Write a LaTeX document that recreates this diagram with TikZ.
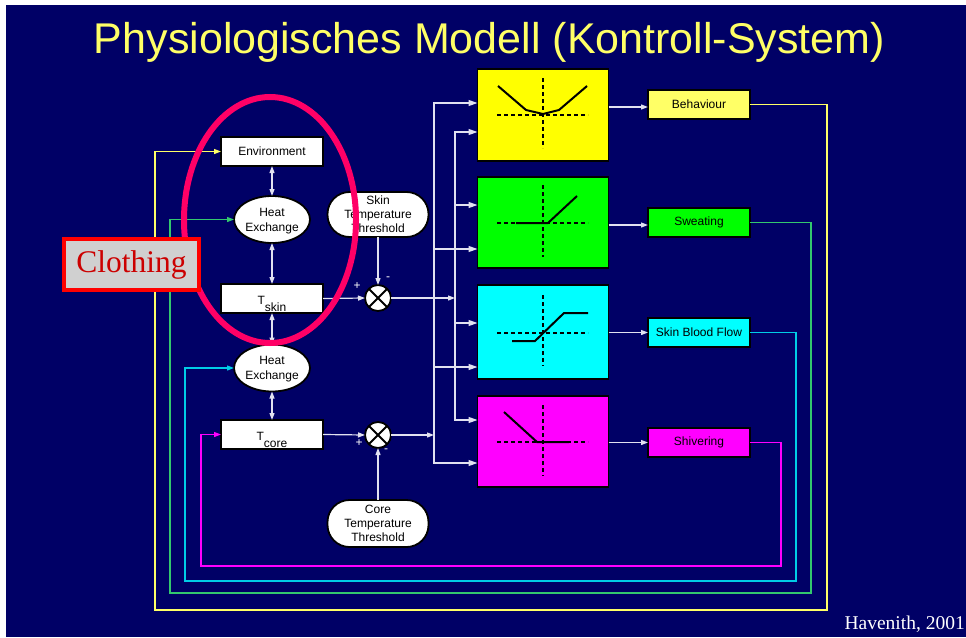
\documentclass[tikz,border=0pt]{standalone}
\usepackage{fontspec}
\setmainfont{Liberation Sans}
\newfontfamily\timesf{Liberation Serif}
\usetikzlibrary{arrows.meta,shapes.geometric}
\definecolor{navy}{RGB}{0,0,102}
\definecolor{titley}{RGB}{255,255,102}
\definecolor{sigc}{RGB}{225,225,240}
\definecolor{fbyel}{RGB}{255,255,102}
\definecolor{fbgrn}{RGB}{51,200,110}
\definecolor{fbcyan}{RGB}{0,204,230}
\definecolor{fbmag}{RGB}{255,0,255}
\definecolor{pinkc}{RGB}{255,0,102}
\definecolor{behy}{RGB}{255,255,102}
\definecolor{yelc}{RGB}{255,255,0}
\definecolor{grnc}{RGB}{0,255,0}
\definecolor{cync}{RGB}{0,255,255}
\definecolor{magc}{RGB}{255,0,255}
\definecolor{clothgray}{RGB}{208,208,208}
\definecolor{clothred}{RGB}{204,0,0}
\definecolor{redc}{RGB}{255,0,0}
\begin{document}
\begin{tikzpicture}[x=1pt,y=-1pt,
  smallfont/.style={font=\fontsize{12}{14}\selectfont},
  sigline/.style={draw=sigc,line width=1.2pt},
  arr/.style={-{Triangle[length=7pt,width=5pt]}},
  barr/.style={{Triangle[length=7pt,width=5pt]}-{Triangle[length=7pt,width=5pt]}},
  carr/.style={-{Triangle[length=9pt,width=6pt]}},
  fbline/.style={line width=1.2pt,-{Triangle[length=7pt,width=5pt]}},
  whitebox/.style={draw=black,line width=1.8pt,fill=white,minimum width=102pt,minimum height=29pt,inner sep=0pt,outer sep=0pt,smallfont},
  hxell/.style={ellipse,draw=black,line width=1.8pt,fill=white,minimum width=76pt,minimum height=47pt,inner sep=0pt,outer sep=0pt,align=center,font=\fontsize{12}{15}\selectfont,text depth=0pt},
  thr/.style={rectangle,rounded corners=22pt,draw=black,line width=1.8pt,fill=white,minimum width=101pt,minimum height=45pt,inner sep=0pt,outer sep=0pt,align=center,font=\fontsize{12}{14}\selectfont,text depth=0pt},
  junc/.style={circle,draw=black,line width=1.8pt,fill=white,minimum size=26pt,inner sep=0pt,outer sep=0pt},
  ctlbox/.style={draw=black,line width=1.8pt,minimum width=131pt,inner sep=0pt,outer sep=0pt},
  outbox/.style={draw=black,line width=1.8pt,minimum width=102pt,minimum height=29pt,inner sep=0pt,outer sep=0pt,smallfont},
  pm/.style={text=white,font=\fontsize{12}{12}\selectfont,inner sep=0pt},
  dsh/.style={draw=black,line width=1.1pt,dash pattern=on 4pt off 3pt},
  crv/.style={draw=black,line width=2pt}
]
\useasboundingbox (0,0) rectangle (966,637);
\fill[white] (0,0) rectangle (966,637);
\fill[navy] (6,5) rectangle (966,637);

% title and credit
\node[anchor=base,inner sep=0pt,text=titley,font=\fontsize{43}{50}\selectfont] (title) at (489.5,53) {Physiologisches Modell (Kontroll-System)};
\node[anchor=base east,inner sep=0pt,text=white,font=\timesf\fontsize{19.5}{22}\selectfont] (cred) at (965,629) {Havenith, 2001};

% left column
\node[whitebox] (env) at (272,151.5) {Environment};
\node[hxell] (hx1) at (272,219.5) {Heat\\Exchange};
\node[whitebox,text height=11pt,text depth=0pt] (tskin) at (272,298.5) {\smash{T\raisebox{-7pt}{skin}}};
\node[hxell] (hx2) at (272,368) {Heat\\Exchange};
\node[whitebox,text height=11pt,text depth=0pt] (tcore) at (272,434.5) {\smash{T\raisebox{-7pt}{core}}};

% thresholds and junctions
\node[thr] (sth) at (378,214.5) {Skin\\Temperature\\Threshold};
\node[junc] (sj) at (378,298) {};
\node[thr,minimum height=47pt] (cth) at (378,523.5) {Core\\Temperature\\Threshold};
\node[junc] (cj) at (378,435) {};
\draw[line width=1.8pt] (sj.north west) -- (sj.south east) (sj.north east) -- (sj.south west);
\draw[line width=1.8pt] (cj.north west) -- (cj.south east) (cj.north east) -- (cj.south west);
\node[pm] (sjp) at (357,286) {+};
\node[pm] (sjm) at (388,279) {-};
\node[pm] (cjp) at (359,443) {+};
\node[pm] (cjm) at (386,451) {-};

% control boxes
\node[ctlbox,fill=yelc,minimum height=92pt] (ctl1) at (543,115) {};
\node[ctlbox,fill=grnc,minimum height=91pt] (ctl2) at (543,222.5) {};
\node[ctlbox,fill=cync,minimum height=94pt] (ctl3) at (543,332) {};
\node[ctlbox,fill=magc,minimum height=91pt] (ctl4) at (543,441.5) {};

% graphs inside control boxes
\draw[dsh] (497,115) -- (588,115);
\draw[dsh] (543,78) -- (543,148);
\draw[crv] (498,86) -- (526,110) -- (543,114) -- (559,110) -- (587,86);
\draw[dsh] (497,223) -- (588,223);
\draw[dsh] (543,185) -- (543,257);
\draw[crv] (516,223) -- (548,223) -- (577,196);
\draw[dsh] (497,333) -- (588,333);
\draw[dsh] (543,295) -- (543,366);
\draw[crv] (512,341) -- (535,341) -- (564,313) -- (588,313);
\draw[dsh] (497,442) -- (588,442);
\draw[dsh] (543,405) -- (543,476);
\draw[crv] (504,412) -- (537,442) -- (569,442);

% output boxes
\node[outbox,fill=behy] (out1) at (699,104.5) {Behaviour};
\node[outbox,fill=grnc] (out2) at (699,222.5) {Sweating};
\node[outbox,fill=cync] (out3) at (699,332.5) {Skin Blood Flow};
\node[outbox,fill=magc] (out4) at (699,442.5) {Shivering};

% vertical double arrows
\draw[sigline,barr] (env) -- (hx1);
\draw[sigline,barr] (hx1) -- (tskin);
\draw[sigline,barr] (tskin) -- (hx2);
\draw[sigline,barr] (hx2) -- (tcore);

% skin path
\coordinate (busB) at (455,298);
\draw[sigline,arr] (tskin.east) -- (sj.west);
\draw[sigline,arr] (sth.south) -- (sj.north);
\draw[sigline,arr] (sj.east) -- (busB);
\draw[sigline,carr] (busB) |- (ctl1.west |- 0,132);
\draw[sigline,carr] (busB) |- (ctl2.west |- 0,205);
\draw[sigline,carr] (busB) |- (ctl3.west |- 0,323);
\draw[sigline,carr] (busB) |- (ctl4.west |- 0,420);

% core path
\coordinate (busA) at (434,435);
\draw[sigline,arr] (tcore.east) -- (cj.west);
\draw[sigline,arr] (cth.north) -- (cj.south);
\draw[sigline,arr] (cj.east) -- (busA);
\draw[sigline,carr] (busA) |- (ctl1.west |- 0,103);
\draw[sigline,carr] (busA) |- (ctl2.west |- 0,249);
\draw[sigline,carr] (busA) |- (ctl3.west |- 0,367);
\draw[sigline,carr] (busA) |- (ctl4.west |- 0,463);

% control to outputs
\draw[sigline,arr] (ctl1.east |- 0,107) -- (out1.west |- 0,107);
\draw[sigline,arr] (ctl2.east |- 0,225) -- (out2.west |- 0,225);
\draw[sigline,arr] (ctl3.east |- out3) -- (out3.west);
\draw[sigline,arr] (ctl4.east |- out4) -- (out4.west);

% feedback loops
\draw[fbline,draw=fbyel] (out1.east) -| (827,610) -- (155,610) |- (env.west);
\draw[fbline,draw=fbgrn] (out2.east) -| (811,593) -- (170,593) |- (hx1.west);
\draw[fbline,draw=fbcyan] (out3.east) -| (796,581) -- (185,581) |- (hx2.west);
\draw[fbline,draw=fbmag] (out4.east) -| (781,566) -- (201,566) |- (tcore.west);

% clothing highlight
\draw[pinkc,line width=6pt] (270,220) ellipse [x radius=86,y radius=123];
\node[draw=redc,line width=4pt,fill=clothgray,minimum width=135pt,minimum height=51pt,inner sep=0pt,text=clothred,font=\timesf\fontsize{31.5}{36}\selectfont] (cloth) at (131.5,264.5) {Clothing};
\end{tikzpicture}
\end{document}
